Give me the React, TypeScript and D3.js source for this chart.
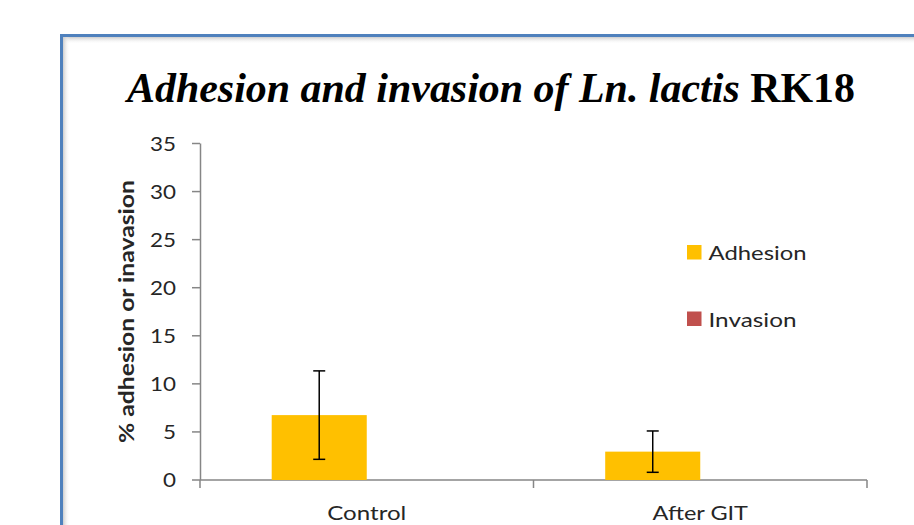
import React from "react";
import * as d3 from "d3";

const categories = ["Control", "After GIT"];
const seriesNames = ["Adhesion", "Invasion"];
const adhesion = [6.75, 2.95];
const adhesionErr = [4.6, 2.15];
const invasion = [0, 0];
const yTicks = [0, 5, 10, 15, 20, 25, 30, 35];
const colors = ["#FFC000", "#C0504D"];

const W = 914;
const H = 525;
const plotLeft = 200;
const plotRight = 867;
const plotTop = 143.5;
const plotBottom = 480;

const sans = "Lato";
const serif = "'Liberation Serif'";

export default function App() {
  const y = d3.scaleLinear().domain([0, 35]).range([plotBottom, plotTop]);
  const x0 = d3.scaleBand<string>().domain(categories).range([plotLeft, plotRight]).paddingInner(0).paddingOuter(0);
  const bw = x0.bandwidth();
  const groupPad = 0.215;
  const x1 = d3
    .scaleBand<string>()
    .domain(seriesNames)
    .range([bw * groupPad, bw * (1 - groupPad)])
    .padding(0);
  const seriesVals = [adhesion, invasion];
  const axisColor = "#868686";
  const catWidths = [79, 95.5];
  const legWidths = [98, 88];

  return (
    <svg width={W} height={H} style={{ position: "absolute", left: 0, top: 0, background: "#fff" }}>
      <defs>
        <linearGradient id="shTop" x1="0" y1="0" x2="0" y2="1">
          <stop offset="0" stopColor="#c8c8c8" stopOpacity="0.9" />
          <stop offset="1" stopColor="#ffffff" stopOpacity="0" />
        </linearGradient>
        <linearGradient id="shLeft" x1="0" y1="0" x2="1" y2="0">
          <stop offset="0" stopColor="#c8c8c8" stopOpacity="0.9" />
          <stop offset="1" stopColor="#ffffff" stopOpacity="0" />
        </linearGradient>
      </defs>
      <rect x={0} y={0} width={W} height={H} fill="#fff" />
      {/* inner shadow */}
      <rect x={63} y={37} width={W} height={7} fill="url(#shTop)" />
      <rect x={63} y={37} width={7} height={H} fill="url(#shLeft)" />
      {/* frame */}
      <rect x={61.5} y={35.5} width={W + 20} height={H + 20} fill="none" stroke="#4F81BD" strokeWidth={3} />

      {/* title */}
      <text
        x={127}
        y={102}
        textLength={728}
        lengthAdjust="spacingAndGlyphs"
        style={{ fontFamily: serif, fontWeight: "bold", fontSize: 42 }}
        fill="#000"
      >
        <tspan style={{ fontFamily: serif, fontStyle: "italic", fontWeight: "bold" }}>
          Adhesion and invasion of Ln. lactis
        </tspan>
        <tspan style={{ fontFamily: serif, fontStyle: "normal", fontWeight: "bold" }}> RK18</tspan>
      </text>

      <g style={{ fontFamily: sans }}>
        {/* y axis */}
        <line x1={plotLeft + 0.5} x2={plotLeft + 0.5} y1={y(35)} y2={y(0)} stroke={axisColor} strokeWidth={1.5} />
        {yTicks.map((t) => (
          <g key={t}>
            <line x1={192} x2={plotLeft} y1={y(t)} y2={y(t)} stroke={axisColor} strokeWidth={1.5} />
            <text
              x={176 - 13 * String(t).length}
              y={y(t)}
              dy="0.36em"
              textLength={13 * String(t).length}
              lengthAdjust="spacingAndGlyphs"
              fontSize={20}
              fill="#262626"
            >
              {t}
            </text>
          </g>
        ))}

        {/* x axis */}
        <line x1={plotLeft} x2={plotRight} y1={plotBottom} y2={plotBottom} stroke={axisColor} strokeWidth={1.5} />
        {[plotLeft, ...categories.map((c) => (x0(c) as number) + bw)].map((xx, i) => (
          <line key={i} x1={xx} x2={xx} y1={plotBottom} y2={488} stroke={axisColor} strokeWidth={1.5} />
        ))}

        {/* bars */}
        {categories.map((c, ci) => (
          <g key={c} transform={`translate(${x0(c)},0)`}>
            {seriesNames.map((s, si) => {
              const v = seriesVals[si][ci];
              return (
                <rect
                  key={s}
                  x={x1(s) as number}
                  y={y(v)}
                  width={x1.bandwidth()}
                  height={plotBottom - y(v)}
                  fill={colors[si]}
                />
              );
            })}
          </g>
        ))}

        {/* error bars */}
        {categories.map((c, ci) => {
          const cx = (x0(c) as number) + (x1("Adhesion") as number) + x1.bandwidth() / 2;
          const hi = y(adhesion[ci] + adhesionErr[ci]);
          const lo = y(adhesion[ci] - adhesionErr[ci]);
          return (
            <g key={c} stroke="#000" strokeWidth={1.5}>
              <line x1={cx} x2={cx} y1={hi} y2={lo} />
              <line x1={cx - 6} x2={cx + 6} y1={hi} y2={hi} />
              <line x1={cx - 6} x2={cx + 6} y1={lo} y2={lo} />
            </g>
          );
        })}

        {/* category labels */}
        {categories.map((c, i) => (
          <text
            key={c}
            x={(x0(c) as number) + bw / 2 - catWidths[i] / 2}
            y={519.5}
            textLength={catWidths[i]}
            lengthAdjust="spacingAndGlyphs"
            fontSize={20}
            fill="#262626"
          >
            {c}
          </text>
        ))}

        {/* y axis label */}
        <text
          transform={`translate(133.5,311.5) rotate(-90)`}
          x={-131.5}
          textLength={263}
          lengthAdjust="spacingAndGlyphs"
          fontSize={21.5}
          fontWeight="bold"
          fill="#262626"
        >
          % adhesion or inavasion
        </text>

        {/* legend */}
        {seriesNames.map((s, i) => (
          <g key={s} transform={`translate(687,${245 + i * 66.5})`}>
            <rect x={0} y={0} width={14.5} height={14.5} fill={colors[i]} />
            <text
              x={21.5}
              y={15}
              textLength={legWidths[i]}
              lengthAdjust="spacingAndGlyphs"
              fontSize={20}
              fill="#262626"
            >
              {s}
            </text>
          </g>
        ))}
      </g>
    </svg>
  );
}
